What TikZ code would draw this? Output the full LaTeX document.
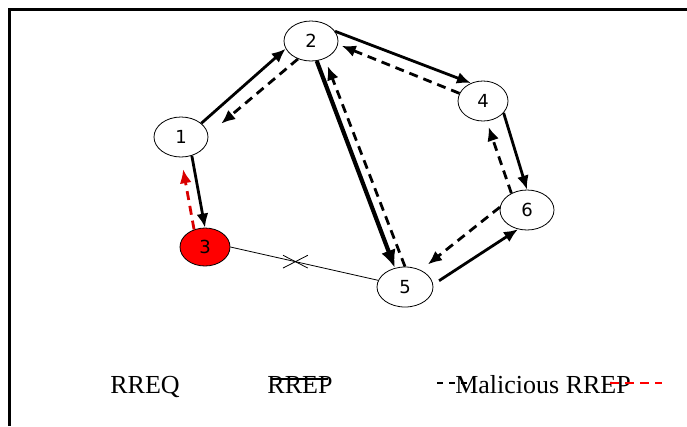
\documentclass[tikz,border=0pt]{standalone}
\usepackage{fontspec}
\setmainfont{Liberation Serif}
\newfontfamily\digitfont{DejaVu Sans}
\usetikzlibrary{arrows.meta, shapes.geometric, shapes.misc}
\tikzset{
	station/.style={draw, ellipse, line width=0.8pt, inner sep=0pt, minimum width=54pt, minimum height=40pt, fill=white, font=\digitfont\fontsize{18}{20}\selectfont},
	attacker/.style={station, fill=red, minimum width=50pt, minimum height=38pt},
	% forward request and reply arrows
	req/.style={line width=2.8pt, -{Latex[length=14pt, width=12pt]}},
	rep/.style={line width=2.8pt, dash pattern=on 9pt off 6pt, -{Latex[length=14pt, width=12pt]}},
	mal/.style={rep, red!85!black},
	legend/.style={anchor=base, font=\fontsize{26}{30}\selectfont},
}

\begin{document}
\begin{tikzpicture}[x=1pt, y=-1pt]
		\useasboundingbox (0,0) rectangle (687,426);
		\draw[line width=3pt] (9,426) -- (9,9) -- (687,9);
		
		\node (n1) [station] at (181,137) {1};
		\node (n2) [station] at (311,41) {2};
		\node (n3) [attacker] at (205,247) {3};
		\node (n4) [station, minimum width=50pt] at (483,101) {4};
		\node (n5) [station, minimum width=56pt] at (405,287) {5};
		\node (n6) [station] at (527,210) {6};
		
		\node (rreq) [legend] at (145,393) {RREQ};
		\node (rrep) [legend] at (300,393) {RREP};
		\node (mrrep) [legend] at (543,393) {Malicious RREP};
		\coordinate (repa) at (272,379);
		\coordinate (repb) at (328,379);
		\coordinate (dasha) at (437,383);
		\coordinate (dashb) at (474,383);
		\coordinate (reda) at (610,383);
		\coordinate (redb) at (662,383);
		
		\draw[line width=0.8pt] (n3.east) -- node[pos=0.44, cross out, draw, line width=0.8pt, inner sep=0pt, minimum width=24pt, minimum height=12pt] (cut) {} (n5.166);
		
		\begin{scope}
			\draw[req] (n1.34) -- (n2.197);
			\draw[rep, shorten >=17pt] (n2.234) -- (n1.5);
			\draw[req] (n1.300) -- (n3.north);
			\draw[mal, shorten >=12pt] (n3.122) -- (n1.south);
			\draw[req] (n2.22) -- (n4.124);
			\draw[rep, shorten >=4pt] (n4.162) -- (n2.353);
			\draw[req, line width=4.2pt, -{Latex[length=18pt, width=15pt]}] (n2.286) -- (n5.118);
			\draw[rep, shorten >=8pt] (n5.north) -- (n2.308);
			\draw[req] (n4.330) -- (n6.north);
			\draw[rep, shorten >=6pt] (n6.133) -- (n4.280);
			\draw[req, shorten <=7pt] (n5.5) -- (n6.245);
			\draw[rep, shorten >=9pt] (n6.174) -- (n5.47);
		\end{scope}
		
		\draw[line width=2pt] (repa) -- (repb);
		\draw[line width=2pt, dash pattern=on 6pt off 6pt] (dasha) -- (dashb);
		\draw[line width=2pt, red, dash pattern=on 9pt off 6pt] (reda) -- (redb);
	\end{tikzpicture}
\end{document}
